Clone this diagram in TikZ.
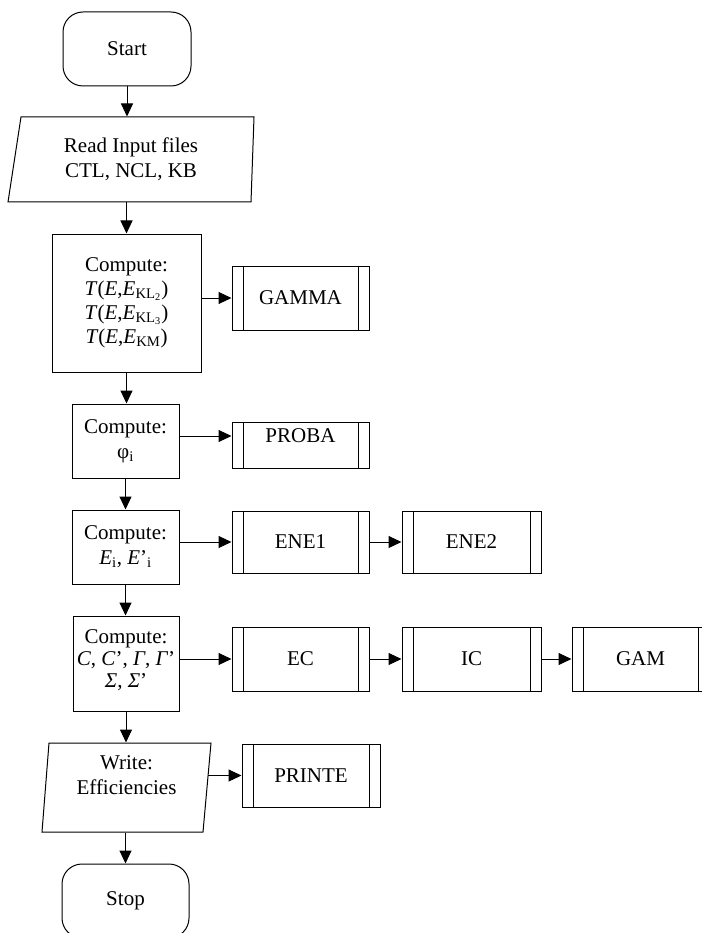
\documentclass[tikz,border=0pt]{standalone}
\usepackage{fontspec}
\setmainfont{Liberation Serif}
\usetikzlibrary{arrows.meta, positioning, calc}

\begin{document}
\begin{tikzpicture}[x=1pt, y=-1pt, >={Triangle[length=13pt,width=12pt]},
    line width=1pt, font=\fontsize{21}{25}\selectfont,
    term/.style={draw, rounded corners=20pt, minimum width=128pt, minimum height=74pt},
    proc/.style={draw, align=center, inner sep=0pt},
    io/.style={align=center, inner sep=0pt},
    sub/.style={draw, minimum width=137pt, minimum height=64pt, inner sep=0pt,
        path picture={
            \draw ([xshift=11pt]path picture bounding box.north west) -- ([xshift=11pt]path picture bounding box.south west);
            \draw ([xshift=-11pt]path picture bounding box.north east) -- ([xshift=-11pt]path picture bounding box.south east);}}]
    \useasboundingbox (0,0) rectangle (701,933);

    \node[term] (start) at (127,49) {Start};
    \node[io, minimum width=236pt, minimum height=85pt] (read) at (131,159.5) {Read Input files\\CTL, NCL, KB};
    \draw (21,117) -- (254,117) -- (251,202) -- (8,202) -- cycle;

    \node[proc, minimum width=149pt, minimum height=138pt] (tcomp) at (126.5,303)
        {Compute:\\[-1pt]\textit{T}(\textit{E},\textit{E}\textsubscript{KL\textsubscript{2}})\\[-1pt]\textit{T}(\textit{E},\textit{E}\textsubscript{KL\textsubscript{3}})\\[-1pt]\textit{T}(\textit{E},\textit{E}\textsubscript{KM})};
    \node[sub] (gamma) at (300.5,298) {GAMMA};

    \node[proc, minimum width=107pt, minimum height=74pt] (phi) at (125.5,441) {Compute:\\φ\textsubscript{i}};
    \node[sub, minimum height=46pt, text depth=18pt] (proba) at (300.5,445) {PROBA};

    \node[proc, minimum width=107pt, minimum height=74pt] (ecomp) at (125.5,547) {Compute:\\\textit{E}\textsubscript{i}, \textit{E}’\textsubscript{i}};
    \node[sub, minimum height=62pt] (ene1) at (300.5,542) {ENE1};
    \node[sub, minimum width=139pt, minimum height=62pt] (ene2) at (471.5,542) {ENE2};

    \node[proc, minimum width=106pt, minimum height=95pt] (ccomp) at (126,663.5)
        {Compute:\\[-3pt]\textit{C}, \textit{C}’, \textit{Γ}, \textit{Γ}’\\[-3pt]\textit{Σ}, \textit{Σ}’\\[-16pt]\mbox{}};
    \node[sub] (ec) at (300.5,659) {EC};
    \node[sub, minimum width=139pt] (ic) at (471.5,659) {IC};
    \node[sub] (gam) at (640.5,659) {GAM};

    \node[io, minimum width=161pt, minimum height=89pt] (write) at (126.5,787.5) {Write:\\Efficiencies\\\mbox{}};
    \draw (49,743) -- (211,743) -- (203,832) -- (42,832) -- cycle;
    \node[sub, minimum width=138pt, minimum height=63pt] (printe) at (311,775.5) {PRINTE};

    \node[term, minimum width=127pt] (stop) at (125.5,901) {Stop};

    \draw[->] (start.south) -- (start.south |- read.north);
    \draw[->] (read.south -| tcomp.north) -- (tcomp.north);
    \draw[->] (tcomp.south) -- (tcomp.south |- phi.north);
    \draw[->] (phi.south) -- (ecomp.north);
    \draw[->] (ecomp.south) -- (ecomp.south |- ccomp.north);
    \draw[->] (ccomp.south) -- (ccomp.south |- write.north);
    \draw[->] (write.south -| stop.north) -- (stop.north);

    \draw[->] (tcomp.east |- gamma) -- (gamma.west);
    \draw[->] ([yshift=5pt]phi.east) -- ([yshift=5pt]phi.east -| proba.west);
    \draw[->] (ecomp.east |- ene1) -- (ene1.west);
    \draw[->] (ene1) -- (ene2);
    \draw[->] (ccomp.east |- ec) -- (ec.west);
    \draw[->] (ec) -- (ic);
    \draw[->] (ic) -- (gam);
    \draw[->] (write.east |- printe) -- (printe.west);
\end{tikzpicture}
\end{document}
